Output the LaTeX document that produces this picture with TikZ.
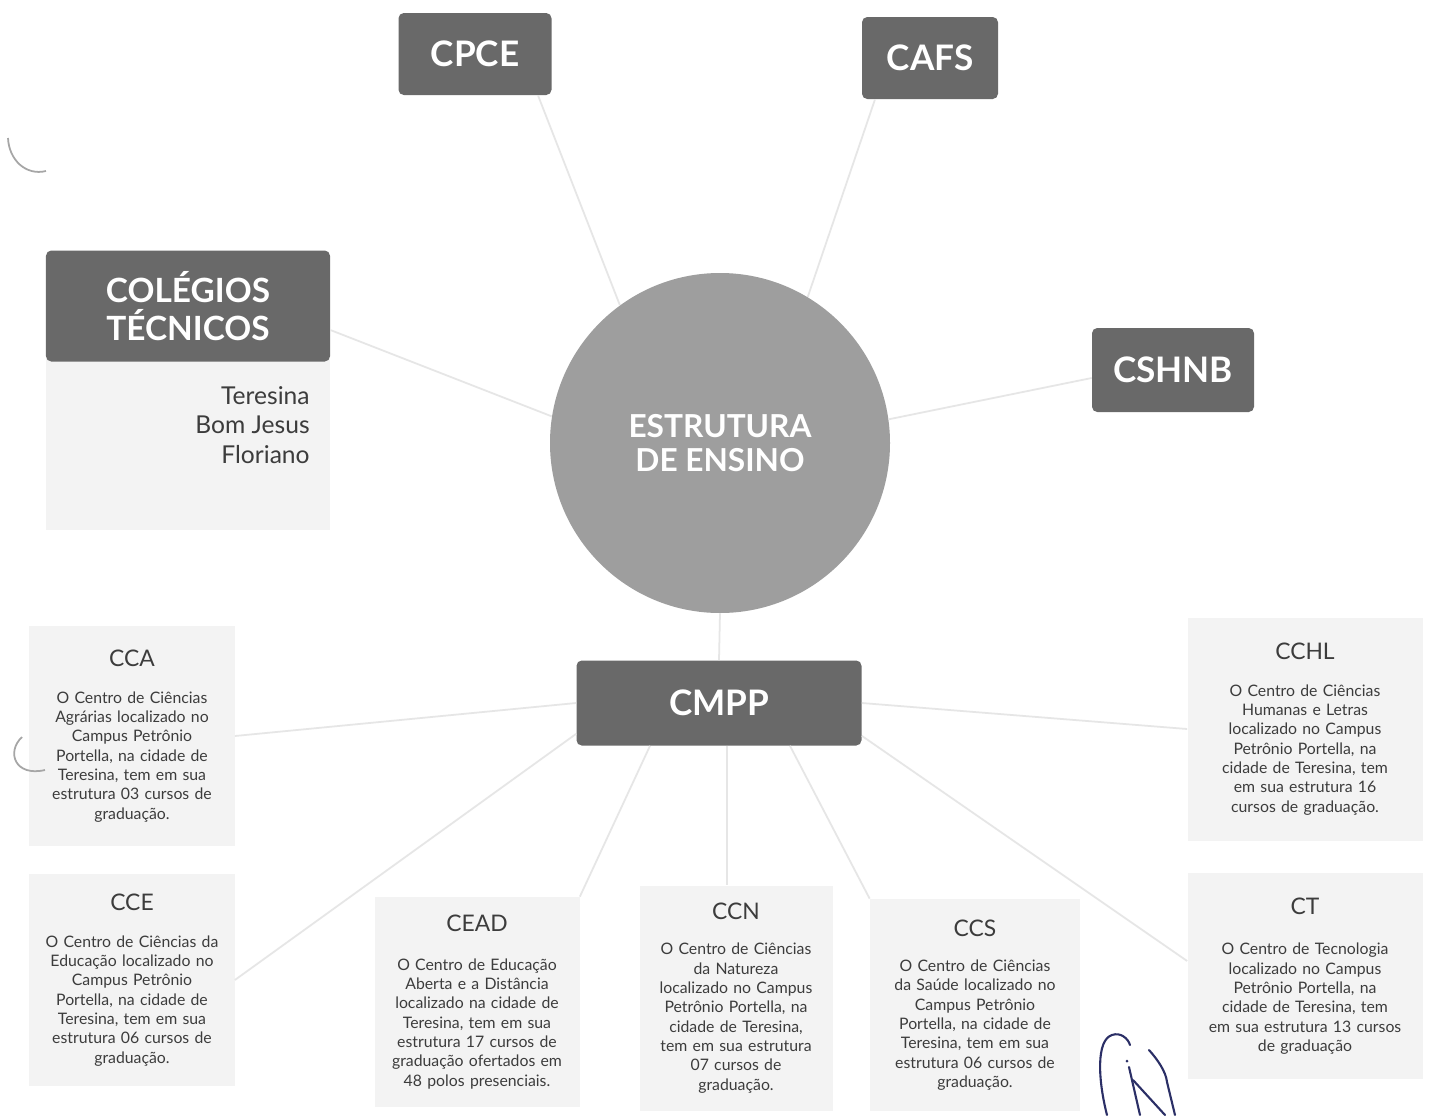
\documentclass[tikz,border=0pt]{standalone}
\usepackage{fontspec}
\setmainfont{Lato}
\definecolor{boxgray}{HTML}{696969}
\definecolor{hubgray}{HTML}{9E9E9E}
\definecolor{panelgray}{HTML}{F3F3F3}
\definecolor{inkgray}{HTML}{3C3C3C}
\definecolor{linkgray}{HTML}{E6E6E6}
\definecolor{pen}{HTML}{2B2F66}
\begin{document}
\begin{tikzpicture}[x=0.2mm, y=-0.2mm,
    dark/.style={fill=boxgray, rounded corners=3pt, text=white, inner sep=0pt,
      font=\bfseries\fontsize{20}{22}\selectfont},
    panel/.style={fill=panelgray, align=center, inner sep=0pt, text=inkgray,
      font=\fontsize{9}{11}\selectfont},
    link/.style={draw=linkgray, line width=1pt}]
    \fill[white] (0,0) rectangle (1433,1115);
    \useasboundingbox (0,0) rectangle (1433,1115);

    % centre and first ring
    \node[circle, fill=hubgray, minimum size=6.8cm, inner sep=0pt, align=center, text=white,
      font=\bfseries\fontsize{18}{19.5}\selectfont] (hub) at (720,443) {ESTRUTURA\\DE ENSINO};
    \node[dark, minimum width=3.06cm, minimum height=1.64cm] (cpce) at (475,54) {CPCE};
    \node[dark, minimum width=2.72cm, minimum height=1.64cm] (cafs) at (930,58) {CAFS};
    \node[dark, minimum width=3.24cm, minimum height=1.68cm] (cshnb) at (1173,370) {CSHNB};
    \node[dark, minimum width=5.7cm, minimum height=1.7cm] (cmpp) at (719,703) {CMPP};

    % colegios tecnicos
    \node[fill=panelgray, minimum width=5.68cm, minimum height=3.6cm, inner sep=0pt] (colbody) at (188,440) {};
    \node[dark, minimum width=5.68cm, minimum height=2.22cm, align=center,
      font=\bfseries\fontsize{19}{22}\selectfont] (colhead) at (188,306) {COLÉGIOS\\TÉCNICOS};
    \node[anchor=east, align=right, inner sep=0pt, text=inkgray, font=\fontsize{14}{16.8}\selectfont] (cities)
      at (310,425) {Teresina\\Bom Jesus\\Floriano};

    % centros do CMPP
    \node[panel, text width=4.1cm, minimum height=4.4cm] (cca) at (132,736)
      {{\fontsize{13}{15}\selectfont CCA}\\[10pt]
       O Centro de Ciências\\Agrárias localizado no\\Campus Petrônio\\Portella, na cidade de\\
       Teresina, tem em sua\\estrutura 03 cursos de\\graduação.};
    \node[panel, text width=4.1cm, minimum height=4.24cm] (cce) at (132,980)
      {{\fontsize{13}{15}\selectfont CCE}\\[10pt]
       O Centro de Ciências da\\Educação localizado no\\Campus Petrônio\\Portella, na cidade de\\
       Teresina, tem em sua\\estrutura 06 cursos de\\graduação.};
    \node[panel, text width=4.1cm, minimum height=4.2cm] (cead) at (477,1002)
      {{\fontsize{13}{15}\selectfont CEAD}\\[11pt]
       O Centro de Educação\\Aberta e a Distância\\localizado na cidade de\\Teresina, tem em sua\\
       estrutura 17 cursos de\\graduação ofertados em\\48 polos presenciais.};
    \node[panel, text width=3.86cm, minimum height=4.5cm] (ccn) at (736,998)
      {{\fontsize{13}{15}\selectfont CCN}\\[9pt]
       O Centro de Ciências\\da Natureza\\localizado no Campus\\Petrônio Portella, na\\
       cidade de Teresina,\\tem em sua estrutura\\07 cursos de\\graduação.};
    \node[panel, text width=4.2cm, minimum height=4.24cm] (ccs) at (975,1005)
      {{\fontsize{13}{15}\selectfont CCS}\\[9pt]
       O Centro de Ciências\\da Saúde localizado no\\Campus Petrônio\\Portella, na cidade de\\
       Teresina, tem em sua\\estrutura 06 cursos de\\graduação.};
    \node[panel, text width=4.7cm, minimum height=4.46cm] (cchl) at (1305,729)
      {{\fontsize{13}{15}\selectfont CCHL}\\[10pt]
       O Centro de Ciências\\Humanas e Letras\\localizado no Campus\\Petrônio Portella, na\\
       cidade de Teresina, tem\\em sua estrutura 16\\cursos de graduação.};
    \node[panel, text width=4.7cm, minimum height=4.12cm] (ct) at (1305,976)
      {{\fontsize{13}{15}\selectfont CT}\\[12pt]
       O Centro de Tecnologia\\localizado no Campus\\Petrônio Portella, na\\cidade de Teresina, tem\\
       em sua estrutura 13 cursos\\de graduação};

    % ligacoes
    \draw[link] (hub.126) -- ([xshift=1.26cm]cpce.south);
    \draw[link] (hub.59) -- ([xshift=-1.1cm]cafs.south);
    \draw[link] (hub.8) -- ([yshift=-0.16cm]cshnb.west);
    \draw[link] (hub.171) -- ([yshift=-0.48cm]colhead.east);
    \draw[link] (hub.south) -- (cmpp.north);
    \draw[link] (cmpp.west) -- (cca.east);
    \draw[link] ([yshift=0.24cm]cmpp.south west) -- (cce.east);
    \draw[link] ([xshift=-1.38cm]cmpp.south) -- (cead.north east);
    \draw[link] ([xshift=0.16cm]cmpp.south) -- ([xshift=0.16cm]cmpp.south |- ccn.north);
    \draw[link] ([xshift=1.42cm]cmpp.south) -- (ccs.north west);
    \draw[link] (cmpp.east) -- (cchl.west);
    \draw[link] ([yshift=0.2cm]cmpp.south east) -- ([yshift=0.3cm]ct.west);

    % marcas do papel
    \draw[gray!70, line width=1pt] (8,138) .. controls (9,160) and (26,176) .. (46,171);
    \draw[gray!70, line width=1pt] (22,737) .. controls (6,752) and (15,777) .. (45,770);
    \draw[pen, line width=1.2pt, line cap=round] (1107,1115) .. controls (1098,1080) and (1096,1040) .. (1112,1035)
      .. controls (1120,1032) and (1128,1038) .. (1130,1045);
    \fill[pen] (1127,1061) circle (1.5);
    \draw[pen, line width=1.2pt, line cap=round] (1129,1067) -- (1140,1115);
    \draw[pen, line width=1.2pt, line cap=round] (1133,1080) -- (1165,1115);
    \draw[pen, line width=1.2pt, line cap=round] (1149,1050) .. controls (1158,1060) and (1166,1072) .. (1167,1082)
      -- (1175,1115);
\end{tikzpicture}
\end{document}
